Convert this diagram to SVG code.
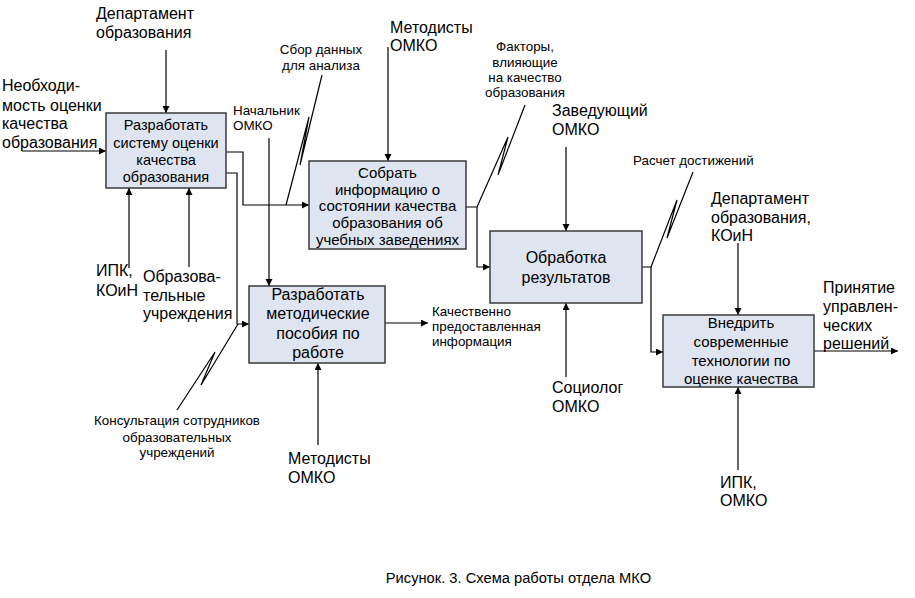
<svg xmlns="http://www.w3.org/2000/svg" width="915" height="598" viewBox="0 0 915 598">
<defs>
<marker id="ah" markerWidth="8" markerHeight="8" refX="7" refY="3.5" orient="auto" markerUnits="userSpaceOnUse">
<path d="M0,0 L7,3.5 L0,7 Z" fill="#000"/>
</marker>
<style>
.box{fill:#dfe5f0;stroke:#3a3a3a;stroke-width:1.5}
.ln{fill:none;stroke:#000;stroke-width:1.2}
.ar{fill:none;stroke:#000;stroke-width:1.2;marker-end:url(#ah)}
text{font-family:"Liberation Sans",Arial,sans-serif;fill:#000}
.bt{text-anchor:middle}
.lg{font-size:16px}
.sm{font-size:13.4px}
</style>
</defs>
<rect width="915" height="598" fill="#fff"/>

<g id="connectors">
<path class="ar" d="M22,151 H106"/>
<path class="ar" d="M166,50 V113"/>
<path class="ar" d="M129,268 V188"/>
<path class="ar" d="M189,267 V188"/>
<path class="ar" d="M226,152 H243 V205 H309"/>
<path class="ar" d="M226,173 H237 V324 H249"/>
<path class="ar" d="M388,47 V161"/>
<path class="ar" d="M466,207 H477 V267 H490"/>
<path class="ar" d="M269,138 V286"/>
<path class="ar" d="M318,445 V363"/>
<path class="ar" d="M385,323 H428"/>
<path class="ar" d="M566,147 V231"/>
<path class="ar" d="M566,377 V303"/>
<path class="ar" d="M642,267 H651 V352 H663"/>
<path class="ar" d="M738,243 V315"/>
<path class="ar" d="M738,470 V387"/>
<path class="ar" d="M814,351 H898"/>
<path class="ln" d="M322,75 L300,165 L309,117 L286,205"/>
<path class="ln" d="M525,105 L498,175 L508,137 L477,207"/>
<path class="ln" d="M693,172 L667,238 L677,200 L651,267"/>
<path class="ln" d="M238,324 L201,385 L215,352 L177,410"/>
</g>

<g id="node-box1">
<rect class="box" x="106" y="113" width="120" height="75"/>
<text class="bt" x="166" y="130" font-size="14.5">Разработать</text>
<text class="bt" x="166" y="148" font-size="14.5">систему оценки</text>
<text class="bt" x="166" y="165" font-size="14.5">качества</text>
<text class="bt" x="166" y="182" font-size="14.5">образования</text>
</g>

<g id="node-box2">
<rect class="box" x="309" y="161" width="157" height="88"/>
<text class="bt" x="387.5" y="178" font-size="15">Собрать</text>
<text class="bt" x="387.5" y="195" font-size="15">информацию о</text>
<text class="bt" x="387.5" y="211" font-size="15">состоянии качества</text>
<text class="bt" x="387.5" y="228" font-size="15">образования об</text>
<text class="bt" x="387.5" y="245" font-size="15">учебных заведениях</text>
</g>

<g id="node-box3">
<rect class="box" x="249" y="286" width="136" height="77"/>
<text class="bt lg" x="318" y="300">Разработать</text>
<text class="bt lg" x="318" y="319">методические</text>
<text class="bt lg" x="318" y="339">пособия по</text>
<text class="bt lg" x="318" y="358">работе</text>
</g>

<g id="node-box4">
<rect class="box" x="490" y="231" width="152" height="72"/>
<text class="bt lg" x="566" y="263">Обработка</text>
<text class="bt lg" x="566" y="283">результатов</text>
</g>

<g id="node-box5">
<rect class="box" x="663" y="315" width="151" height="72"/>
<text class="bt" x="741" y="328" font-size="15">Внедрить</text>
<text class="bt" x="741" y="347" font-size="15">современные</text>
<text class="bt" x="741" y="366" font-size="15">технологии по</text>
<text class="bt" x="741" y="384" font-size="15">оценке качества</text>
</g>

<g id="labels">
<text class="lg" x="96" y="19">Департамент</text>
<text class="lg" x="96" y="38">образования</text>

<text class="lg" x="2" y="91">Необходи-</text>
<text class="lg" x="2" y="111">мость оценки</text>
<text class="lg" x="2" y="129">качества</text>
<text class="lg" x="2" y="148">образования</text>

<text class="lg" x="96" y="276">ИПК,</text>
<text class="lg" x="96" y="296">КОиН</text>
<text class="lg" x="143" y="282">Образова-</text>
<text class="lg" x="143" y="301">тельные</text>
<text class="lg" x="143" y="319">учреждения</text>

<text class="sm" x="233" y="115">Начальник</text>
<text class="sm" x="233" y="130">ОМКО</text>

<text class="sm bt" x="321" y="54">Сбор данных</text>
<text class="sm bt" x="321" y="70">для анализа</text>

<text class="lg" x="390" y="33">Методисты</text>
<text class="lg" x="390" y="51">ОМКО</text>

<text class="sm bt" x="525" y="51">Факторы,</text>
<text class="sm bt" x="525" y="67">влияющие</text>
<text class="sm bt" x="525" y="82">на качество</text>
<text class="sm bt" x="525" y="97">образования</text>

<text class="lg" x="552" y="116">Заведующий</text>
<text class="lg" x="552" y="135">ОМКО</text>

<text class="sm" x="633" y="165">Расчет достижений</text>

<text class="lg" x="711" y="204">Департамент</text>
<text class="lg" x="711" y="223">образования,</text>
<text class="lg" x="711" y="241">КОиН</text>

<text class="lg" x="823" y="293">Принятие</text>
<text class="lg" x="823" y="312">управлен-</text>
<text class="lg" x="823" y="331">ческих</text>
<text class="lg" x="823" y="349">решений</text>

<text class="sm" x="432" y="316">Качественно</text>
<text class="sm" x="432" y="331">предоставленная</text>
<text class="sm" x="432" y="346">информация</text>

<text class="lg" x="552" y="393">Социолог</text>
<text class="lg" x="552" y="412">ОМКО</text>

<text class="lg" x="720" y="488">ИПК,</text>
<text class="lg" x="720" y="506">ОМКО</text>

<text class="lg" x="288" y="464">Методисты</text>
<text class="lg" x="288" y="483">ОМКО</text>

<text class="sm bt" x="177" y="425">Консультация сотрудников</text>
<text class="sm bt" x="177" y="442">образовательных</text>
<text class="sm bt" x="177" y="457">учреждений</text>

<text x="518.5" y="583" font-size="14.7" text-anchor="middle">Рисунок. 3. Схема работы отдела МКО</text>
</g>
</svg>
